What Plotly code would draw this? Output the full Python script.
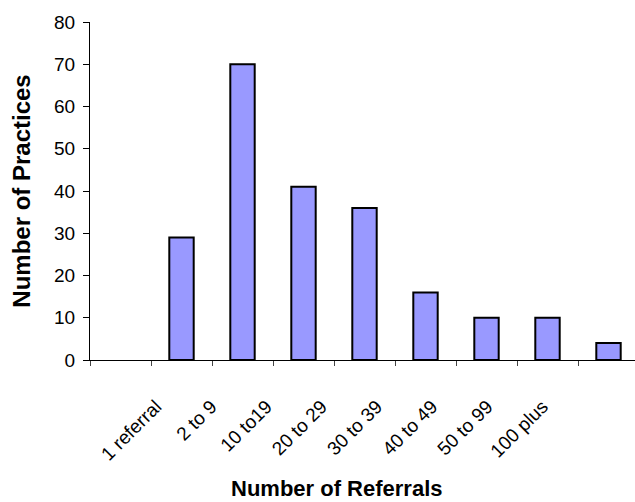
import plotly.graph_objects as go

categories = ["1 referral", "2 to 9", "10 to19", "20 to 29", "30 to 39", "40 to 49", "50 to 99", "100 plus"]
practices = [29, 70, 41, 36, 16, 10, 10, 4]
y_ticks = [0, 10, 20, 30, 40, 50, 60, 70, 80]

# bars occupy slots 1..8 (slot 0 left empty as in the original)
slot_pos = [i + 1 for i in range(len(categories))]
n_slots = len(categories) + 1

W, H = 635, 502
ml, mr, mt, mb = 90, 0, 22, 142
plot_w = W - ml - mr
slot_px = 61.0
x_range = [-0.5, -0.5 + plot_w / slot_px]

# label axis: labels spaced a bit tighter than the bars
lab_px = 55.2
lab_first = 156.0
a = -(lab_first - ml) / lab_px
x2_range = [a, a + plot_w / lab_px]

font_family = "Liberation Sans, Arial, sans-serif"

fig = go.Figure()
fig.add_trace(go.Bar(
    x=slot_pos, y=practices, width=0.4,
    marker=dict(color="#9999FF", line=dict(color="black", width=2)),
    xaxis="x", yaxis="y", showlegend=False,
))
# invisible trace to carry the category labels axis
fig.add_trace(go.Scatter(
    x=categories, y=[0] * len(categories), mode="markers",
    marker=dict(opacity=0), xaxis="x2", yaxis="y",
    showlegend=False, hoverinfo="skip",
))

fig.update_layout(
    width=W, height=H,
    margin=dict(l=ml, r=mr, t=mt, b=mb),
    plot_bgcolor="white", paper_bgcolor="white",
    font=dict(family=font_family, size=19, color="black"),
    xaxis=dict(
        range=x_range, tickmode="array",
        tickvals=[i - 0.5 for i in range(n_slots)],
        showticklabels=False, ticks="outside", ticklen=5, tickcolor="#444",
        tickwidth=1, showline=True, linecolor="black", linewidth=1,
        showgrid=False, zeroline=False,
    ),
    xaxis2=dict(
        overlaying="x", side="bottom", anchor="y", type="category",
        range=x2_range, tickangle=-45, ticks="outside", ticklen=27,
        tickcolor="rgba(0,0,0,0)", showline=False, showgrid=False,
        zeroline=False, tickfont=dict(size=19),
    ),
    yaxis=dict(
        range=[0, 80], tickmode="array", tickvals=y_ticks,
        ticks="outside", ticklen=6, tickcolor="black",
        showline=True, linecolor="black", linewidth=1,
        showgrid=False, zeroline=False, ticklabelstandoff=4,
        title=dict(text="<b>Number of Practices</b>", font=dict(size=24), standoff=16),
    ),
    annotations=[dict(
        text="<b>Number of Referrals</b>", xref="paper", yref="paper",
        x=(337 - ml) / plot_w, y=-(488 - (H - mb)) / (H - mt - mb),
        xanchor="center", yanchor="middle", showarrow=False,
        font=dict(size=22),
    )],
)

fig.write_html("out.html")
